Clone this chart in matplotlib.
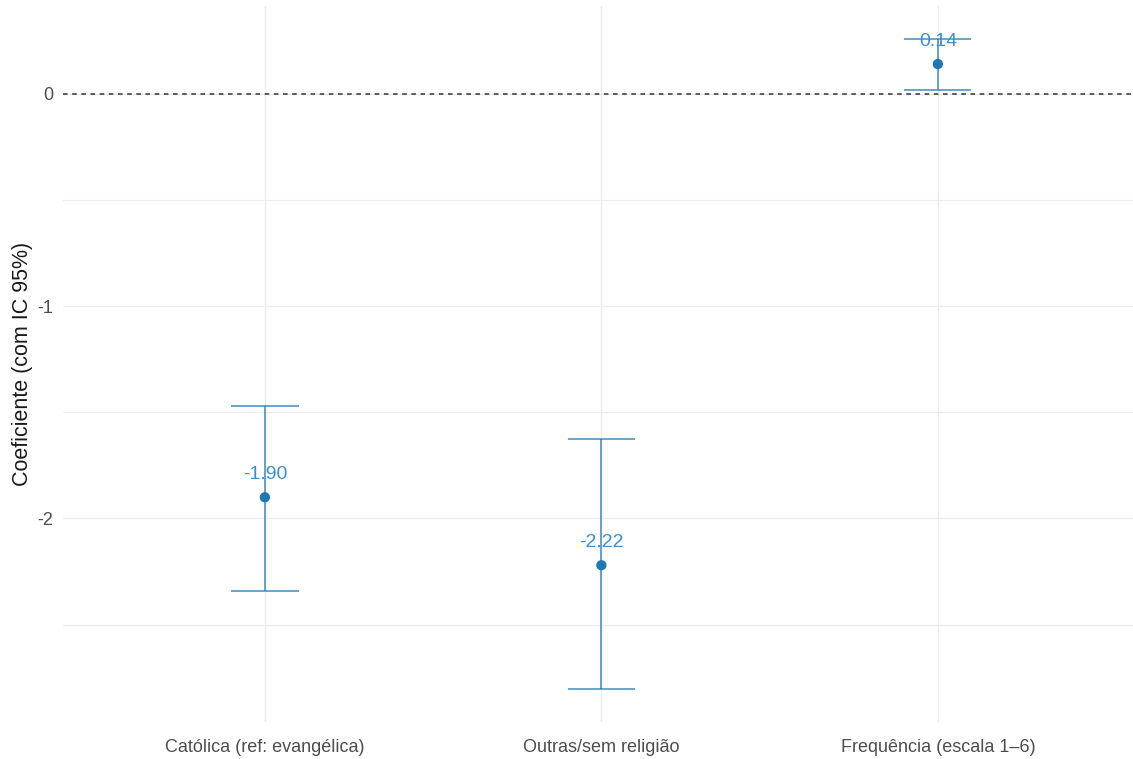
import numpy as np
import matplotlib
matplotlib.use("Agg")
import matplotlib.pyplot as plt

plt.rcParams['font.family'] = ['Liberation Sans', 'DejaVu Sans']

termos = ["Católica (ref: evangélica)", "Outras/sem religião", "Frequência (escala 1–6)"]
coef = [-1.90, -2.22, 0.14]
ic_inf = [-2.34, -2.805, 0.02]
ic_sup = [-1.47, -1.625, 0.26]
rotulos = ["-1.90", "-2.22", "0.14"]

fig = plt.figure(figsize=(11.33, 7.59), dpi=100)
ax = fig.add_axes([63/1133, 37/759, 1 - 63/1133, 716/759])

x = np.arange(len(termos))
cor = '#1f78b4'

ax.axhline(0, color='#333333', ls=(0, (3, 3)), lw=1.1, zorder=2)
for xi, lo, hi in zip(x, ic_inf, ic_sup):
    ax.vlines(xi, lo, hi, color=cor, lw=1.1, alpha=0.85, zorder=3)
    ax.hlines([lo, hi], xi - 0.1, xi + 0.1, color=cor, lw=1.1, alpha=0.85, zorder=3)
ax.scatter(x, coef, s=55, color=cor, zorder=4, edgecolors='none')
for xi, c, r in zip(x, coef, rotulos):
    ax.text(xi, c + 0.105, r, ha='center', va='center', fontsize=14, color='#3b8fd1', zorder=5)

ax.set_xlim(-0.6, 2.58)
lo_all, hi_all = min(ic_inf), max(ic_sup)
pad = (hi_all - lo_all) * 0.05
ax.set_ylim(lo_all - pad, hi_all + pad)

ax.set_xticks(x)
ax.set_xticklabels(termos)
ax.set_yticks([0, -1, -2])
ax.set_yticklabels(['0', '-1', '-2'])
ax.set_yticks([-0.5, -1.5, -2.5], minor=True)
ax.tick_params(axis='both', length=0, labelsize=13, labelcolor='#4d4d4d')
ax.tick_params(axis='y', pad=7)
ax.tick_params(axis='x', pad=12)
ax.tick_params(which='minor', length=0)

ax.grid(True, which='major', color='#ebebeb', lw=1.0, zorder=0)
ax.grid(True, which='minor', axis='y', color='#ebebeb', lw=0.8, zorder=0)
ax.set_axisbelow(True)
for s in ax.spines.values():
    s.set_visible(False)

ax.set_ylabel('Coeficiente (com IC 95%)', fontsize=15.5, color='#1a1a1a', labelpad=3)

fig.savefig('out.png', dpi=100)
